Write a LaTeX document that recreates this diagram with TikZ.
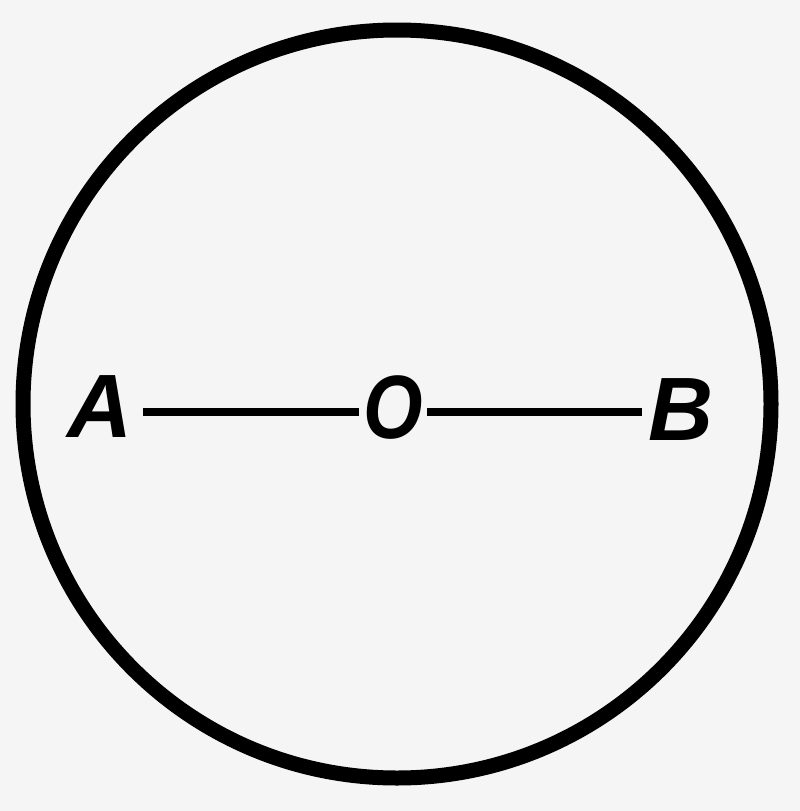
\documentclass[tikz,border=0pt]{standalone}
\usepackage{fontspec}
\setsansfont{Liberation Sans}
\definecolor{paper}{RGB}{245,245,245}
\begin{document}
\begin{tikzpicture}[x=1pt,y=-1pt,
  lbl/.style={font=\sffamily\bfseries\itshape\fontsize{90}{90}\selectfont, inner sep=0pt, text=black},
  rim/.style={line width=15pt, draw=black},
  diam/.style={line width=8pt, draw=black}]
\fill[paper] (0,0) rectangle (800,811);
\useasboundingbox (0,0) rectangle (800,811);
\coordinate (c) at (397,404);
\draw[rim] (c) ellipse [x radius=374, y radius=374];
\node[lbl] (A) at (100,407) {A};
\node[lbl, xscale=0.85] (O) at (393,408) {O};
\node[lbl] (B) at (681,410) {B};
\draw[diam, shorten <=10pt, shorten >=4pt] (A.east |- 0,412) -- (O.west |- 0,412);
\draw[diam, shorten <=4pt, shorten >=6pt] (O.east |- 0,412) -- (B.west |- 0,412);
\end{tikzpicture}
\end{document}
